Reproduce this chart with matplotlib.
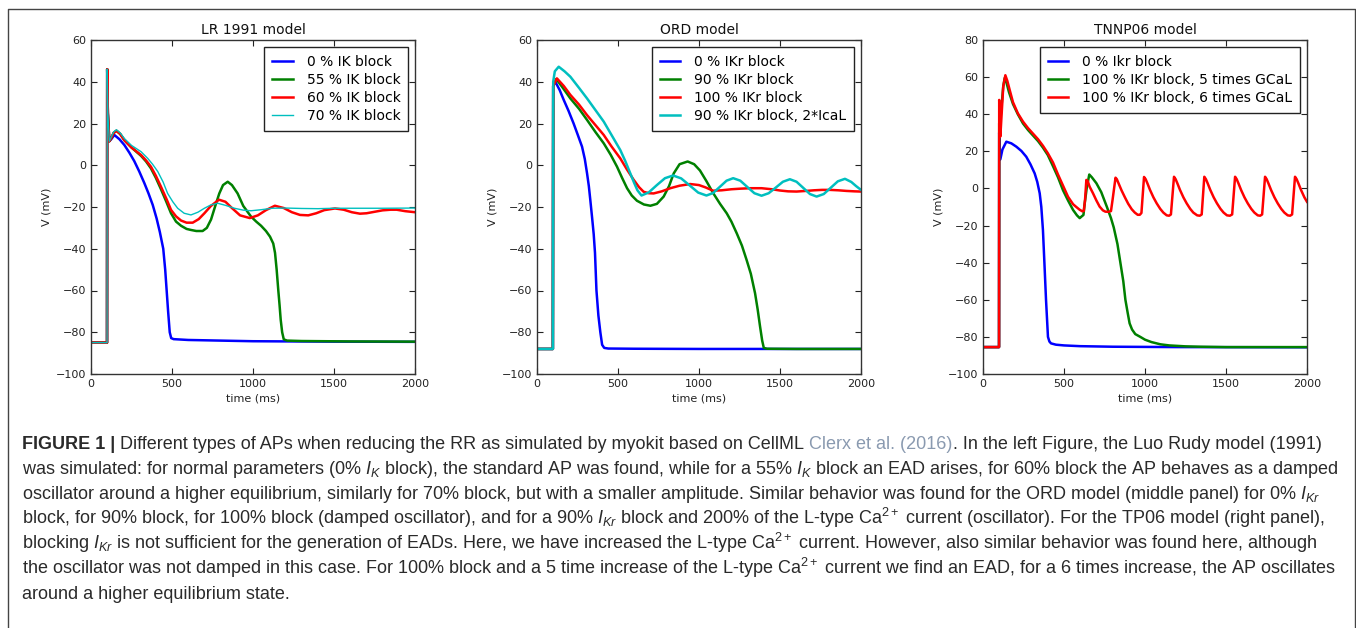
import matplotlib
matplotlib.use("Agg")
import matplotlib.pyplot as plt
from matplotlib import font_manager
from matplotlib.lines import Line2D

W, H = 1356, 628

# ---- LR 1991 model: time (ms) / membrane potential (mV) ----
lr_t_0 = [0, 99, 100, 104, 113, 125, 144, 175, 206, 237, 267, 298, 329, 355, 381, 405, 425, 446, 458, 467,
          476, 486, 495, 510, 600, 800, 1000, 1500, 2000]
lr_v_0 = [-85, -85, 46, 25, 11.5, 12.5, 14.5, 12.5, 9.7, 6, 2, -3, -8.5, -13.5, -19, -25.5, -32, -40, -50, -60,
          -70, -80, -82.8, -83.3, -83.7, -84, -84.3, -84.5, -84.6]

lr_t_55 = [0, 99, 100, 104, 113, 125, 140, 157, 180, 206, 250, 309, 340, 370, 400, 432, 465, 494, 525, 556,
           590, 617, 650, 689, 715, 741, 765, 792, 815, 844, 870, 905, 940, 988, 1020, 1050, 1080, 1105, 1125, 1136,
           1146, 1156, 1164, 1171, 1180, 1190, 1210, 1300, 1600, 2000]
lr_v_55 = [-85, -85, 46, 25, 11.5, 13, 15.5, 16.5, 15, 12, 8.5, 4.5, 1.8, -1.5, -6, -11.5, -17.5, -23, -27, -29,
           -30.5, -31, -31.5, -31.5, -30, -26, -20, -13.5, -9.5, -7.9, -9.5, -13.5, -19.5, -24.6, -27, -29, -31.5, -34.2, -37.5, -42,
           -50, -59.8, -67, -74, -80, -83.4, -84, -84.2, -84.4, -84.5]

lr_t_60 = [0, 99, 100, 104, 113, 125, 140, 157, 180, 206, 250, 309, 340, 370, 400, 432, 465, 494, 525, 556,
           590, 628, 665, 700, 740, 790, 830, 870, 920, 980, 1030, 1080, 1135, 1190, 1240, 1290, 1341, 1390, 1440, 1506,
           1560, 1610, 1660, 1701, 1750, 1800, 1850, 1887, 1940, 2000]
lr_v_60 = [-85, -85, 46, 25, 11.5, 13, 15.5, 16.5, 15, 12, 8.5, 4.9, 2.3, -0.7, -5, -10.3, -16, -21.4, -24.5, -26.5,
           -27.5, -27.5, -25.8, -23, -19.5, -16.5, -17.5, -20.5, -24, -25.3, -24, -21.5, -19.4, -20.5, -22.5, -23.8, -24, -23, -21.5, -20.7,
           -21.3, -22.5, -23.2, -23, -22.3, -21.6, -21.3, -21.3, -22, -22.5]

lr_t_70 = [0, 99, 100, 104, 113, 125, 140, 157, 180, 206, 250, 309, 350, 380, 412, 445, 473, 505, 535, 575,
           617, 660, 700, 740, 782, 830, 885, 940, 988, 1050, 1120, 1200, 1300, 1400, 1500, 1600, 1800, 2000]
lr_v_70 = [-85, -85, 46, 25, 11.5, 13.5, 16, 17, 15.5, 12.8, 9.5, 6.5, 3.3, 0.5, -3, -8, -13.5, -17.5, -20.6, -23,
           -23.8, -22.5, -20.6, -19, -18.2, -19.2, -20.6, -21.5, -21.8, -21.3, -20.6, -20.5, -20.7, -20.8, -20.6, -20.6, -20.6, -20.5]

# ---- ORD model ----
ord_t_0 = [0, 98, 100, 113, 140, 165, 195, 226, 252, 278, 295, 309, 320, 329, 340, 350, 358, 367, 379, 391,
           402, 415, 440, 600, 1000, 2000]
ord_v_0 = [-88, -88, 38, 40, 36, 31.3, 26, 20, 14.5, 8.9, 3, -3.9, -10, -16.6, -25, -33, -42, -60, -72, -80,
           -86, -87.5, -87.8, -87.9, -88, -88]

ord_t_90 = [0, 98, 100, 119, 160, 206, 260, 309, 360, 412, 455, 494, 525, 556, 585, 617, 660, 700, 740, 782,
            815, 844, 880, 930, 970, 1006, 1045, 1088, 1130, 1171, 1200, 1233, 1265, 1294, 1320, 1346, 1362, 1377, 1390, 1400,
            1420, 1600, 2000]
ord_v_90 = [-88, -88, 38, 41.3, 37, 32, 27, 21.7, 16, 10.5, 5, -0.7, -6, -11, -14.5, -17, -18.8, -19.4, -18.5, -15,
            -10, -3.9, 0.5, 1.8, 0.5, -2.5, -7.5, -13.4, -18.5, -23, -27, -32.6, -38.5, -45.4, -52, -61.3, -69, -77.3, -84, -87.5,
            -87.9, -88, -88]

ord_t_100 = [0, 98, 100, 123, 165, 206, 260, 309, 360, 412, 460, 514, 555, 597, 630, 658, 690, 720, 770, 823,
             880, 946, 1000, 1040, 1087, 1140, 1200, 1260, 1320, 1386, 1450, 1500, 1550, 1602, 1660, 1710, 1760, 1808, 1860, 1910,
             1960, 2000]
ord_v_100 = [-88, -88, 38, 41.6, 38, 33.7, 29, 24, 19.3, 14.5, 9, 3.3, -2, -7, -10.5, -12.7, -13.4, -13.5, -12.5, -11,
             -9.8, -9, -9.5, -10.6, -12.2, -12, -11.5, -11.2, -11, -11, -11.5, -12.1, -12.5, -12.6, -12.3, -12, -11.8, -11.8, -12, -12.3,
             -12.5, -12.6]

ord_t_cal = [0, 98, 100, 110, 134, 170, 206, 260, 309, 360, 412, 460, 514, 545, 576, 600, 620, 645, 690, 740,
             790, 840, 890, 943, 995, 1046, 1087, 1128, 1170, 1211, 1255, 1298, 1342, 1386, 1430, 1474, 1518, 1561, 1602, 1643,
             1685, 1726, 1770, 1813, 1857, 1901, 1940, 1970, 2000]
ord_v_cal = [-88, -88, 40, 45, 47.2, 45, 42.4, 37, 32, 26.5, 20.9, 14.5, 7.3, 2, -3.9, -8.5, -12, -14.5, -13, -9.5,
             -6.2, -4.9, -6.3, -9.7, -13.1, -14.5, -13.3, -10.4, -7.4, -6.2, -7.4, -10.4, -13.4, -14.6, -13.4, -10.7, -7.9, -6.7, -7.9, -10.8,
             -13.8, -15, -13.8, -10.8, -7.7, -6.5, -8, -10, -11.8]

# ---- TNNP06 model ----
tn_t_0 = [0, 99, 100, 103, 107, 120, 144, 175, 206, 237, 267, 293, 319, 335, 350, 360, 370, 379, 389, 401,
          410, 420, 450, 500, 600, 800, 1200, 2000]
tn_v_0 = [-85.5, -85.5, 30, 22, 15.7, 21, 25.2, 24.3, 22.5, 20.2, 17.1, 13, 8.1, 3.5, -2.6, -10, -22.4, -40, -60, -80,
          -82.5, -83.5, -84.2, -84.6, -85, -85.3, -85.5, -85.6]

tn_t_5 = [0, 99, 100, 104, 110, 125, 134, 145, 160, 185, 215, 247, 278, 309, 340, 370, 400, 432, 463, 494,
          525, 556, 580, 597, 610, 620, 628, 640, 656, 672, 700, 730, 765, 790, 807, 830, 848, 866, 879, 893,
          905, 920, 940, 971, 1000, 1040, 1095, 1150, 1250, 1342, 1500, 2000]
tn_v_5 = [-85.5, -85.5, 35, 30, 40, 55, 59.5, 57, 52, 45.5, 40, 35, 31.5, 28.5, 25.5, 22, 18, 12, 6, -1,
          -6.5, -11.6, -14.5, -16, -15, -14.3, -8, 0, 7.5, 6, 2.8, -2, -10, -16, -21, -30, -40, -50, -60, -67,
          -72.7, -76, -78.5, -80, -81.5, -82.8, -84, -84.6, -85.1, -85.3, -85.5, -85.5]

tn_t_6 = [0, 99, 100, 103, 107, 115, 125, 138, 150, 165, 185, 215, 247, 278, 309, 340, 370, 400, 432, 463,
          494, 525, 556, 576, 597, 613, 622, 630, 638, 646, 658, 679, 700, 720, 740, 755, 775, 790, 800, 818,
          826, 838, 855, 876, 896, 918, 937, 955, 968, 978, 994,
          1004, 1016, 1031, 1052, 1072, 1094, 1113, 1134, 1149, 1160, 1179,
          1189, 1201, 1216, 1237, 1257, 1279, 1298, 1322, 1338, 1350, 1366,
          1376, 1388, 1403, 1424, 1444, 1466, 1485, 1506, 1524, 1538, 1556,
          1566, 1578, 1593, 1614, 1634, 1656, 1675, 1696, 1711, 1723, 1741,
          1751, 1763, 1778, 1799, 1819, 1841, 1860, 1881, 1896, 1908, 1926,
          1936, 1948, 1963, 1984, 2000]
tn_v_6 = [-85.5, -85.5, 47.7, 40, 28, 40, 55, 61, 58, 53, 46.5, 40.5, 36, 32.5, 29.5, 26.5, 23, 19, 14, 7.5,
          1.5, -4.5, -8.5, -10, -11.5, -12.3, -12.2, -6, 4.6, 4, 1, -2.6, -6.5, -9.8, -11.8, -12.5, -12.6, -12.2, -6, 5.8,
          5, 2.5, -1, -4.8, -8.2, -11.2, -13, -14.2, -14.2, -13.2, 6.2,
          5, 2.5, -0.8, -4.8, -8, -11, -13, -14.5, -14.7, -14, 6.3,
          5, 2.5, -0.8, -4.8, -8, -11, -13, -14.5, -14.7, -14, 6.3,
          5, 2.5, -0.8, -4.8, -8, -11, -13, -14.5, -14.7, -14, 6.3,
          5, 2.5, -0.8, -4.8, -8, -11, -13, -14.5, -14.7, -14, 6.3,
          5, 2.5, -0.8, -4.8, -8, -11, -13, -14.5, -14.7, -14, 6.3,
          5, 2.5, -0.8, -4.8, -7.2]

lr_labels = ["0 % IK block", "55 % IK block", "60 % IK block", "70 % IK block"]
ord_labels = ["0 % IKr block", "90 % IKr block", "100 % IKr block", "90 % IKr block, 2*IcaL"]
tn_labels = ["0 % Ikr block", "100 % IKr block, 5 times GCaL", "100 % IKr block, 6 times GCaL"]

x_ticks = [0, 500, 1000, 1500, 2000]

BLUE, GREEN, RED, CYAN = "#0000ff", "#008000", "#ff0000", "#00bfbf"

fig = plt.figure(figsize=(W / 100, H / 100), dpi=100)
fig.patch.set_facecolor("white")


def add_panel(left_px):
    return fig.add_axes([left_px / W, (H - 374) / H, 324 / W, 334 / H])


def style_panel(ax, title, ylim, yticks):
    ax.set_xlim(0, 2000)
    ax.set_ylim(*ylim)
    ax.set_xticks(x_ticks)
    ax.set_yticks(yticks)
    ax.tick_params(direction="in", top=True, right=True, length=4, width=0.8,
                   labelsize=8, pad=3.5, colors="#222222")
    for sp in ax.spines.values():
        sp.set_color("#333333")
        sp.set_linewidth(1.0)
    ax.set_title(title, fontsize=10, pad=4, color="#111111")
    ax.set_xlabel("time (ms)", fontsize=8, labelpad=3.5, color="#222222")
    ax.set_ylabel("V (mV)", fontsize=8, labelpad=3, color="#222222")
    leg = ax.legend(loc="upper right", fontsize=10, handlelength=1.5, handletextpad=1.0,
                    labelspacing=0.3, borderpad=0.55, borderaxespad=0.5,
                    fancybox=False, framealpha=1, edgecolor="#222222")
    leg.get_frame().set_linewidth(1.0)


ax1 = add_panel(91)
ax1.plot(lr_t_0, lr_v_0, color=BLUE, lw=1.8, label=lr_labels[0])
ax1.plot(lr_t_55, lr_v_55, color=GREEN, lw=1.8, label=lr_labels[1])
ax1.plot(lr_t_60, lr_v_60, color=RED, lw=1.8, label=lr_labels[2])
ax1.plot(lr_t_70, lr_v_70, color=CYAN, lw=1.0, label=lr_labels[3])
style_panel(ax1, "LR 1991 model", (-100, 60), range(-100, 61, 20))

ax2 = add_panel(537)
ax2.plot(ord_t_0, ord_v_0, color=BLUE, lw=1.8, label=ord_labels[0])
ax2.plot(ord_t_90, ord_v_90, color=GREEN, lw=1.8, label=ord_labels[1])
ax2.plot(ord_t_100, ord_v_100, color=RED, lw=1.8, label=ord_labels[2])
ax2.plot(ord_t_cal, ord_v_cal, color=CYAN, lw=1.8, label=ord_labels[3])
style_panel(ax2, "ORD model", (-100, 60), range(-100, 61, 20))

ax3 = add_panel(983)
ax3.plot(tn_t_0, tn_v_0, color=BLUE, lw=1.8, label=tn_labels[0])
ax3.plot(tn_t_5, tn_v_5, color=GREEN, lw=1.8, label=tn_labels[1])
ax3.plot(tn_t_6, tn_v_6, color=RED, lw=1.8, label=tn_labels[2])
style_panel(ax3, "TNNP06 model", (-100, 80), range(-100, 81, 20))

# frame around figure and caption
fig.add_artist(Line2D([7.5 / W, 7.5 / W, 1355 / W, 1355 / W], [0, 1 - 9 / H, 1 - 9 / H, 0],
                      transform=fig.transFigure, color="#444444", lw=1.0))

# ---- caption ----
avail = {f.name for f in font_manager.fontManager.ttflist}
cap_font = next((f for f in ["Liberation Sans Narrow", "DejaVu Sans Condensed", "Liberation Sans"]
                 if f in avail), "DejaVu Sans")
plt.rcParams["mathtext.fontset"] = "custom"
plt.rcParams["mathtext.rm"] = cap_font
plt.rcParams["mathtext.it"] = cap_font + ":italic"
plt.rcParams["mathtext.bf"] = cap_font + ":bold"

INK = "#2a2a2a"
REF = "#8a9ab0"

caption = [
    [("FIGURE 1 |", "bold", 0),
     ("Different types of APs when reducing the RR as simulated by myokit based on CellML", "plain", 1),
     ("Clerx et al. (2016)", "ref", 1),
     (". In the left Figure, the Luo Rudy model (1991)", "plain", 0)],
    [(r"was simulated: for normal parameters (0% $I_K$ block), the standard AP was found, while for a 55% $I_K$ "
      r"block an EAD arises, for 60% block the AP behaves as a damped", "plain", 0)],
    [(r"oscillator around a higher equilibrium, similarly for 70% block, but with a smaller amplitude. Similar "
      r"behavior was found for the ORD model (middle panel) for 0% $I_{Kr}$", "plain", 0)],
    [(r"block, for 90% block, for 100% block (damped oscillator), and for a 90% $I_{Kr}$ block and 200% of the "
      r"L-type Ca$^{2+}$ current (oscillator). For the TP06 model (right panel),", "plain", 0)],
    [(r"blocking $I_{Kr}$ is not sufficient for the generation of EADs. Here, we have increased the L-type "
      r"Ca$^{2+}$ current. However, also similar behavior was found here, although", "plain", 0)],
    [(r"the oscillator was not damped in this case. For 100% block and a 5 time increase of the L-type "
      r"Ca$^{2+}$ current we find an EAD, for a 6 times increase, the AP oscillates", "plain", 0)],
    [("around a higher equilibrium state.", "plain", 0)],
]

renderer = fig.canvas.get_renderer()


def draw_caption_line(parts, y_px, size):
    def width(t):
        return t.get_window_extent(renderer).width

    probe_a = fig.text(0, 0, "a a", fontsize=size, family=cap_font)
    probe_b = fig.text(0, 0, "aa", fontsize=size, family=cap_font)
    space = width(probe_a) - width(probe_b)
    probe_a.remove()
    probe_b.remove()

    x = 22.0
    baseline = y_px + 0.36 * size * 100 / 72
    made = []
    for txt, kind, gap in parts:
        x += gap * space
        t = fig.text(x / W, 1 - baseline / H, txt, fontsize=size, family=cap_font,
                     fontweight="bold" if kind == "bold" else "normal",
                     color=REF if kind == "ref" else INK, va="baseline", ha="left")
        made.append(t)
        x += width(t)
    return x, made


# size the caption so the first line spans the frame width
end, made = draw_caption_line(caption[0], 443, 12)
for t in made:
    t.remove()
cap_size = 12 * (1318 - 22) / (end - 22)

for i, parts in enumerate(caption):
    draw_caption_line(parts, 443 + 25 * i, cap_size)

fig.savefig("out.png", dpi=100, facecolor="white")
